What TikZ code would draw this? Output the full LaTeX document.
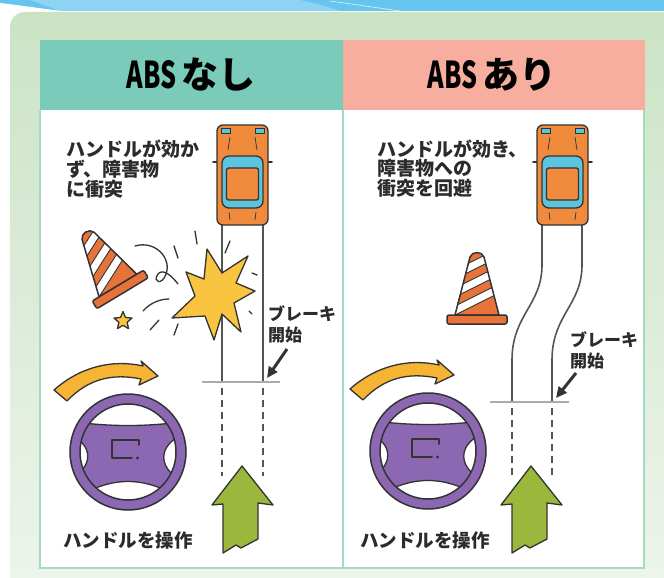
\documentclass[tikz,border=0pt]{standalone}
\usepackage{fontspec}
\usepackage{graphicx}
\usetikzlibrary{arrows.meta,shapes.geometric}
\newfontfamily\jp{Noto Sans CJK JP}

\definecolor{bandblue}{HTML}{67C4EE}
\definecolor{bandlight}{HTML}{8CD3F4}
\definecolor{panelgreen}{HTML}{CBE3C5}
\definecolor{panelpale}{HTML}{EFF5EE}
\definecolor{mint}{HTML}{A3DBBE}
\definecolor{headteal}{HTML}{7BCBBA}
\definecolor{headpink}{HTML}{F8AE9F}
\definecolor{ink}{HTML}{333333}
\definecolor{txt}{HTML}{2B2B2B}
\definecolor{carorange}{HTML}{F08A3C}
\definecolor{glass}{HTML}{5CC5DE}
\definecolor{coneorange}{HTML}{E8733A}
\definecolor{staryellow}{HTML}{F9C43F}
\definecolor{swirlyellow}{HTML}{F6B434}
\definecolor{gogreen}{HTML}{9BB83C}
\definecolor{wheelpurple}{HTML}{8C68B3}
\definecolor{roadgray}{HTML}{555555}
\definecolor{stopgray}{HTML}{ABABAB}

\tikzset{
  outline/.style={draw=ink, line width=1.3pt, line join=round},
  roadline/.style={draw=roadgray, line width=1.6pt},
  roaddash/.style={roadline, dash pattern=on 7pt off 5pt},
  stopline/.style={draw=stopgray, line width=2.2pt},
  debris/.style={draw=ink, line width=1.3pt, line cap=round},
  brakearrow/.style={draw=ink, line width=3pt, -{Triangle[length=11pt,width=10pt]}},
  headtext/.style={font={\jp\bfseries\fontsize{37pt}{40pt}\selectfont}, text=black, inner sep=0pt},
  note/.style={font={\jp\bfseries\fontsize{19pt}{20pt}\selectfont}, text=txt, inner sep=0pt, anchor=base west},
  brakenote/.style={font={\jp\bfseries\fontsize{17pt}{18pt}\selectfont}, text=txt, inner sep=0pt, anchor=base west},
  caption/.style={font={\jp\bfseries\fontsize{18.5pt}{20pt}\selectfont}, text=txt, inner sep=0pt, anchor=base west},
}

% car seen from above, origin at the top left corner of the body
\newcommand\carat[1]{%
  \begin{scope}[shift={#1}]
    \draw[ink, line width=1.8pt, line cap=round] (-4,37) -- (2,37) (49,37) -- (55,37);
    \draw[outline, fill=carorange, rounded corners=6] (0,0) rectangle (51,100);
    \draw[outline, fill=glass, rounded corners=7] (5,31) rectangle (46,83);
    \draw[outline, fill=carorange, rounded corners=2] (9.5,43) rectangle (41.5,75);
    \draw[ink, line width=0.8pt, fill=glass] (4,3.5) rectangle (13,8) (38,3.5) rectangle (47,8);
    \draw[ink, line width=0.7pt] (13,12) -- (11,25) (38,12) -- (40,25) (12,87) -- (13,95) (39,87) -- (38,95);
  \end{scope}}

% striped traffic cone, origin at the centre of its base plate
\newcommand\coneat[2]{%
  \begin{scope}[shift={#1}, rotate=#2]
    \fill[coneorange] (-22,-4) -- (-7,-62) .. controls (-5,-68) and (5,-68) .. (7,-62) -- (22,-4) -- cycle;
    \begin{scope}
      \clip (-22,-4) -- (-7,-62) .. controls (-5,-68) and (5,-68) .. (7,-62) -- (22,-4) -- cycle;
      \foreach \c in {-15,-33,-51}
        \draw[ink, line width=0.9pt, fill=white] (-30,\c+15) -- (30,\c-15) -- (30,\c-24) -- (-30,\c+6) -- cycle;
    \end{scope}
    \draw[outline, line width=1.5pt] (-22,-4) -- (-7,-62) .. controls (-5,-68) and (5,-68) .. (7,-62) -- (22,-4) -- cycle;
    \draw[outline, line width=1.5pt, fill=coneorange, rounded corners=2] (-30,-4) rectangle (30,5);
  \end{scope}}

% steering wheel, origin at its hub
\newcommand\wheelat[1]{%
  \begin{scope}[shift={#1}]
    \fill[wheelpurple] (0,0) circle (58);
    \begin{scope}
      \clip (0,0) circle (48);
      \draw[outline, fill=white] (-60,-31) .. controls (-20,-25) and (20,-25) .. (60,-31) -- (60,-60) -- (-60,-60) -- cycle;
      \draw[outline, fill=white] (-60,52) .. controls (-20,22) and (20,22) .. (60,52) -- (60,62) -- (-60,62) -- cycle;
      \draw[outline, fill=white] (-62,-18) .. controls (-33,-10) and (-33,18) .. (-62,28) -- cycle;
      \draw[outline, fill=white] (62,-20) .. controls (27,-10) and (27,20) .. (62,32) -- cycle;
    \end{scope}
    \draw[outline, line width=1.5pt] (0,0) circle (48);
    \draw[outline, line width=1.5pt] (0,0) circle (58);
    \draw[ink, line width=1.8pt, line cap=round, line join=round] (11,-7) -- (11,-12) -- (-16,-12) -- (-16,6) -- (4,6);
    \fill[ink] (9.5,6) circle (1.7);
  \end{scope}}

% curved yellow arrow showing the steering input
\newcommand\swirlat[1]{%
  \begin{scope}[shift={#1}]
    \draw[outline, fill=swirlyellow] (54,390) .. controls (80,367) and (112,359) .. (143,366)
      -- (141,361) -- (158,376) -- (139,385) -- (141,379)
      .. controls (112,373) and (88,379) .. (67,401) -- cycle;
  \end{scope}}

% green arrow for the direction of travel, origin at its tip
\newcommand\goarrowat[1]{%
  \begin{scope}[shift={#1}]
    \draw[outline, fill=gogreen] (0,0) -- (31,39) -- (16,37) -- (16,73) -- (-1,82) -- (-6,79)
      -- (-19,87) -- (-19,38) -- (-30,39) -- cycle;
  \end{scope}}

\begin{document}
\begin{tikzpicture}[x=1pt,y=-1pt]
\useasboundingbox (0,0) rectangle (664,578);

% page background and top band
\fill[white] (0,0) rectangle (664,578);
\fill[bandblue] (0,0) rectangle (664,11);
\fill[bandlight] (30,0) -- (300,0) .. controls (320,4) and (332,8) .. (340,11) -- (60,11) -- cycle;
\fill[white] (0,3) .. controls (25,6) and (45,9) .. (62,11) -- (0,11) -- cycle;
\draw[white, line width=0.6pt, opacity=0.8] (330,1) -- (400,11);

% green board
\shade[top color=panelgreen, bottom color=panelpale, rounded corners=15]
  (10,620) -- (10,12) -- (700,12) -- (700,620) -- cycle;

% headers and white panels
\fill[headteal] (40,40) rectangle (343,110);
\fill[headpink] (343,40) rectangle (645,110);
\fill[white] (40,110) rectangle (644,568);
\draw[mint, line width=2pt] (40,110) -- (40,568) -- (644,568) -- (644,110);
\draw[mint, line width=1.5pt] (343,110) -- (343,568);

\node[headtext] (hl) at (191,75) {\scalebox{0.68}[1]{ABS}\hspace{5pt}なし};
\node[headtext] (hr) at (492,75) {\scalebox{0.68}[1]{ABS}\hspace{5pt}あり};

% ---------- without ABS ----------
\node[note] (la1) at (66,156) {ハンドルが効か};
\node[note] (la2) at (66,176) {ず、障害物};
\node[note] (la3) at (66,196) {に衝突};

\draw[roadline] (222,225) -- (222,382) (263,225) -- (263,382);
\draw[stopline] (202,382) -- (280,382);
\draw[roaddash] (222,388) -- (222,476) (263,388) -- (263,476);

\carat{(217,125)}
\coneat{(120,289)}{31}

% crash burst
\draw[outline, fill=staryellow] (207,249) -- (222,273) -- (248,256) -- (236,283) -- (255,291)
  -- (234,303) -- (241,332) -- (222,314) -- (214,340) -- (205,316) -- (172,318) -- (195,296)
  -- (186,272) -- (204,279) -- cycle;
\node[star, star points=5, star point ratio=2.2, minimum size=19pt, inner sep=0pt,
  outline, fill=staryellow] (spark) at (123,321) {};

% flying debris strokes
\draw[debris] (135,246) .. controls (155,240) and (172,258) .. (166,274)
  .. controls (162,286) and (152,282) .. (158,274) .. controls (163,268) and (172,276) .. (178,284);
\draw[debris] (174,246) -- (178,258);
\draw[debris] (195,231) -- (197,244);
\draw[debris] (230,241) -- (225,253);
\draw[debris] (252,273) -- (257,275);
\draw[debris] (249,311) -- (252,314);
\draw[debris] (143,311) .. controls (150,303) and (160,299) .. (169,299);
\draw[debris] (150,330) -- (159,320);
\draw[debris] (174,335) -- (178,324);

\node[brakenote] (lb1) at (268,320) {ブレーキ};
\node[brakenote] (lb2) at (268,341) {開始};
\coordinate (lba) at (287,349);
\coordinate (lbb) at (267,378);
\draw[brakearrow] (lba) -- (lbb);

\swirlat{(0,0)}
\wheelat{(128,452)}
\goarrowat{(242,466)}
\node[caption] (lc) at (63,547) {ハンドルを操作};

% ---------- with ABS ----------
\node[note] (ra1) at (377,156) {ハンドルが効き、};
\node[note] (ra2) at (377,175) {障害物への};
\node[note] (ra3) at (377,195) {衝突を回避};

\draw[roadline] (542,224) -- (542,265) .. controls (542,305) and (512,315) .. (512,360) -- (512,402);
\draw[roadline] (582,224) -- (582,265) .. controls (582,305) and (552,315) .. (552,360) -- (552,402);
\draw[stopline] (490,402) -- (569,402);
\draw[roaddash] (512,408) -- (512,476) (552,408) -- (552,476);

\carat{(537,125)}
\coneat{(477,319)}{0}

\node[brakenote] (rb1) at (570,346) {ブレーキ};
\node[brakenote] (rb2) at (570,367) {開始};
\coordinate (rba) at (576,373);
\coordinate (rbb) at (556,398);
\draw[brakearrow] (rba) -- (rbb);

\swirlat{(296,-1)}
\wheelat{(428,451)}
\goarrowat{(531,466)}
\node[caption] (rc) at (360,547) {ハンドルを操作};
\end{tikzpicture}
\end{document}
